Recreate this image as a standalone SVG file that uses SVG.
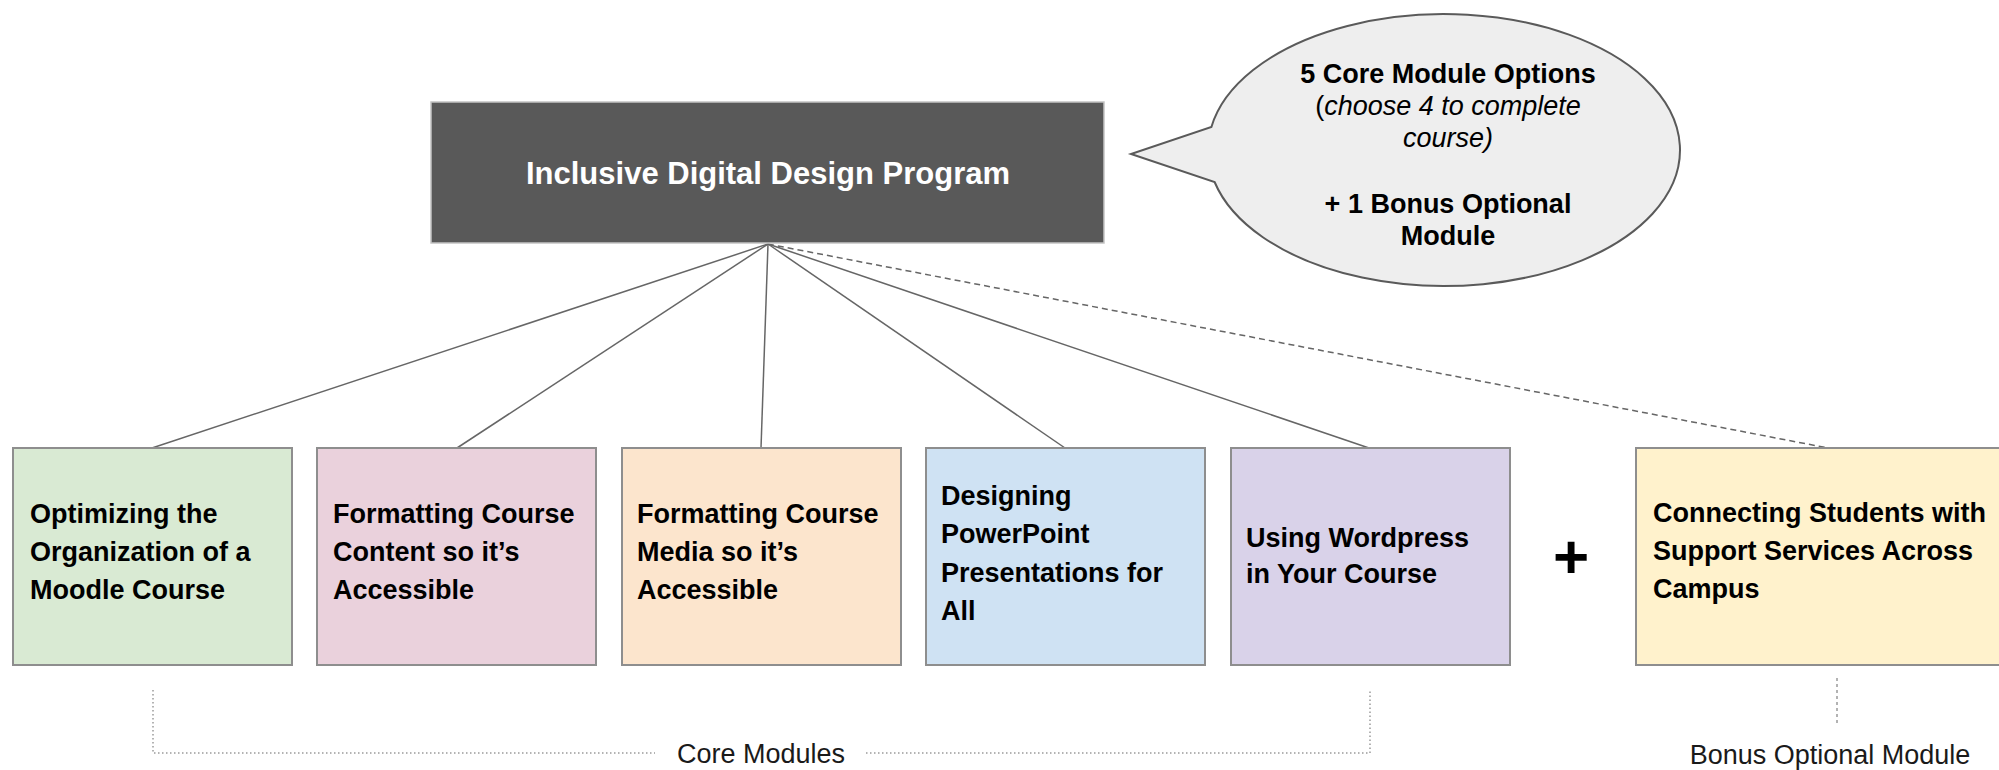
<svg xmlns="http://www.w3.org/2000/svg" width="1999" height="770" viewBox="0 0 1999 770">
  <style>
    .bg { fill: #ffffff; }
    .title { font-family: "Liberation Sans", Arial, sans-serif; font-size: 31px; font-weight: bold; fill: #ffffff; }
    .node-box { stroke: #8e8e8e; stroke-width: 2; }
    .node-text { font-family: "Liberation Sans", Arial, sans-serif; font-size: 27px; font-weight: bold; fill: #000000; }
    .bubble { fill: #eeeeee; stroke: #5a5a5a; stroke-width: 2; }
    .bubble-text { font-family: "Liberation Sans", Arial, sans-serif; font-size: 27px; fill: #000000; text-anchor: middle; }
    .b { font-weight: bold; }
    .i { font-style: italic; }
    .link { stroke: #666666; stroke-width: 1.5; fill: none; }
    .link-dashed { stroke: #666666; stroke-width: 1.5; fill: none; stroke-dasharray: 6 4; }
    .bracket { stroke: #9a9a9a; stroke-width: 1.5; fill: none; stroke-dasharray: 1.5 2.5; }
    .label { font-family: "Liberation Sans", Arial, sans-serif; font-size: 27px; fill: #1a1a1a; text-anchor: middle; }
  </style>

  <rect class="bg" x="0" y="0" width="1999" height="770"/>

  <!-- links from the program box to each module -->
  <g id="connectors">
    <line class="link" x1="768" y1="244" x2="152" y2="448"/>
    <line class="link" x1="768" y1="244" x2="457" y2="448"/>
    <line class="link" x1="768" y1="244" x2="761" y2="448"/>
    <line class="link" x1="768" y1="244" x2="1065" y2="448"/>
    <line class="link" x1="768" y1="244" x2="1369" y2="448"/>
    <line class="link-dashed" x1="768" y1="244" x2="1828" y2="448"/>
  </g>

  <!-- program heading -->
  <g id="program">
    <rect x="431" y="102" width="673" height="141" fill="#595959" stroke="#c4c4c4" stroke-width="1.5"/>
    <text class="title" x="768" y="184" text-anchor="middle">Inclusive Digital Design Program</text>
  </g>

  <!-- speech bubble with module count -->
  <g id="callout">
    <path class="bubble" d="M1211.4,127 A236,136 0 1,1 1214.6,182 L1131,154 Z"/>
    <text class="bubble-text b" x="1448" y="83">5 Core Module Options</text>
    <text class="bubble-text" x="1448" y="115"><tspan>(</tspan><tspan class="i">choose 4 to complete</tspan></text>
    <text class="bubble-text i" x="1448" y="147">course)</text>
    <text class="bubble-text b" x="1448" y="213">+ 1 Bonus Optional</text>
    <text class="bubble-text b" x="1448" y="245">Module</text>
  </g>

  <!-- core modules -->
  <g id="module-moodle">
    <rect class="node-box" x="13" y="448" width="279" height="217" fill="#d9ead3"/>
    <text class="node-text" x="30"><tspan x="30" y="523">Optimizing the</tspan><tspan x="30" y="561">Organization of a</tspan><tspan x="30" y="599">Moodle Course</tspan></text>
  </g>

  <g id="module-content">
    <rect class="node-box" x="317" y="448" width="279" height="217" fill="#ead1dc"/>
    <text class="node-text"><tspan x="333" y="523">Formatting Course</tspan><tspan x="333" y="561">Content so it’s</tspan><tspan x="333" y="599">Accessible</tspan></text>
  </g>

  <g id="module-media">
    <rect class="node-box" x="622" y="448" width="279" height="217" fill="#fce5cd"/>
    <text class="node-text"><tspan x="637" y="523">Formatting Course</tspan><tspan x="637" y="561">Media so it’s</tspan><tspan x="637" y="599">Accessible</tspan></text>
  </g>

  <g id="module-powerpoint">
    <rect class="node-box" x="926" y="448" width="279" height="217" fill="#cfe2f3"/>
    <text class="node-text"><tspan x="941" y="505">Designing</tspan><tspan x="941" y="543">PowerPoint</tspan><tspan x="941" y="582">Presentations for</tspan><tspan x="941" y="620">All</tspan></text>
  </g>

  <g id="module-wordpress">
    <rect class="node-box" x="1231" y="448" width="279" height="217" fill="#d9d2e9"/>
    <text class="node-text"><tspan x="1246" y="547">Using Wordpress</tspan><tspan x="1246" y="583">in Your Course</tspan></text>
  </g>

  <!-- plus sign between core and bonus -->
  <g id="plus">
    <text x="1571" y="578" text-anchor="middle" font-family="Liberation Sans, Arial, sans-serif" font-size="62" font-weight="bold" fill="#000000">+</text>
  </g>

  <!-- bonus module -->
  <g id="module-support">
    <rect class="node-box" x="1636" y="448" width="380" height="217" fill="#fff2cc"/>
    <text class="node-text"><tspan x="1653" y="522">Connecting Students with</tspan><tspan x="1653" y="560">Support Services Across</tspan><tspan x="1653" y="598">Campus</tspan></text>
  </g>

  <!-- grouping brackets -->
  <g id="core-bracket">
    <path class="bracket" d="M153,690 L153,753 L655,753"/>
    <path class="bracket" d="M866,753 L1370,753 L1370,690"/>
    <text class="label" x="761" y="763">Core Modules</text>
  </g>

  <g id="bonus-bracket">
    <line class="bracket" x1="1837" y1="678" x2="1837" y2="723" style="stroke-dasharray: 3 3"/>
    <text class="label" x="1830" y="764">Bonus Optional Module</text>
  </g>
</svg>
